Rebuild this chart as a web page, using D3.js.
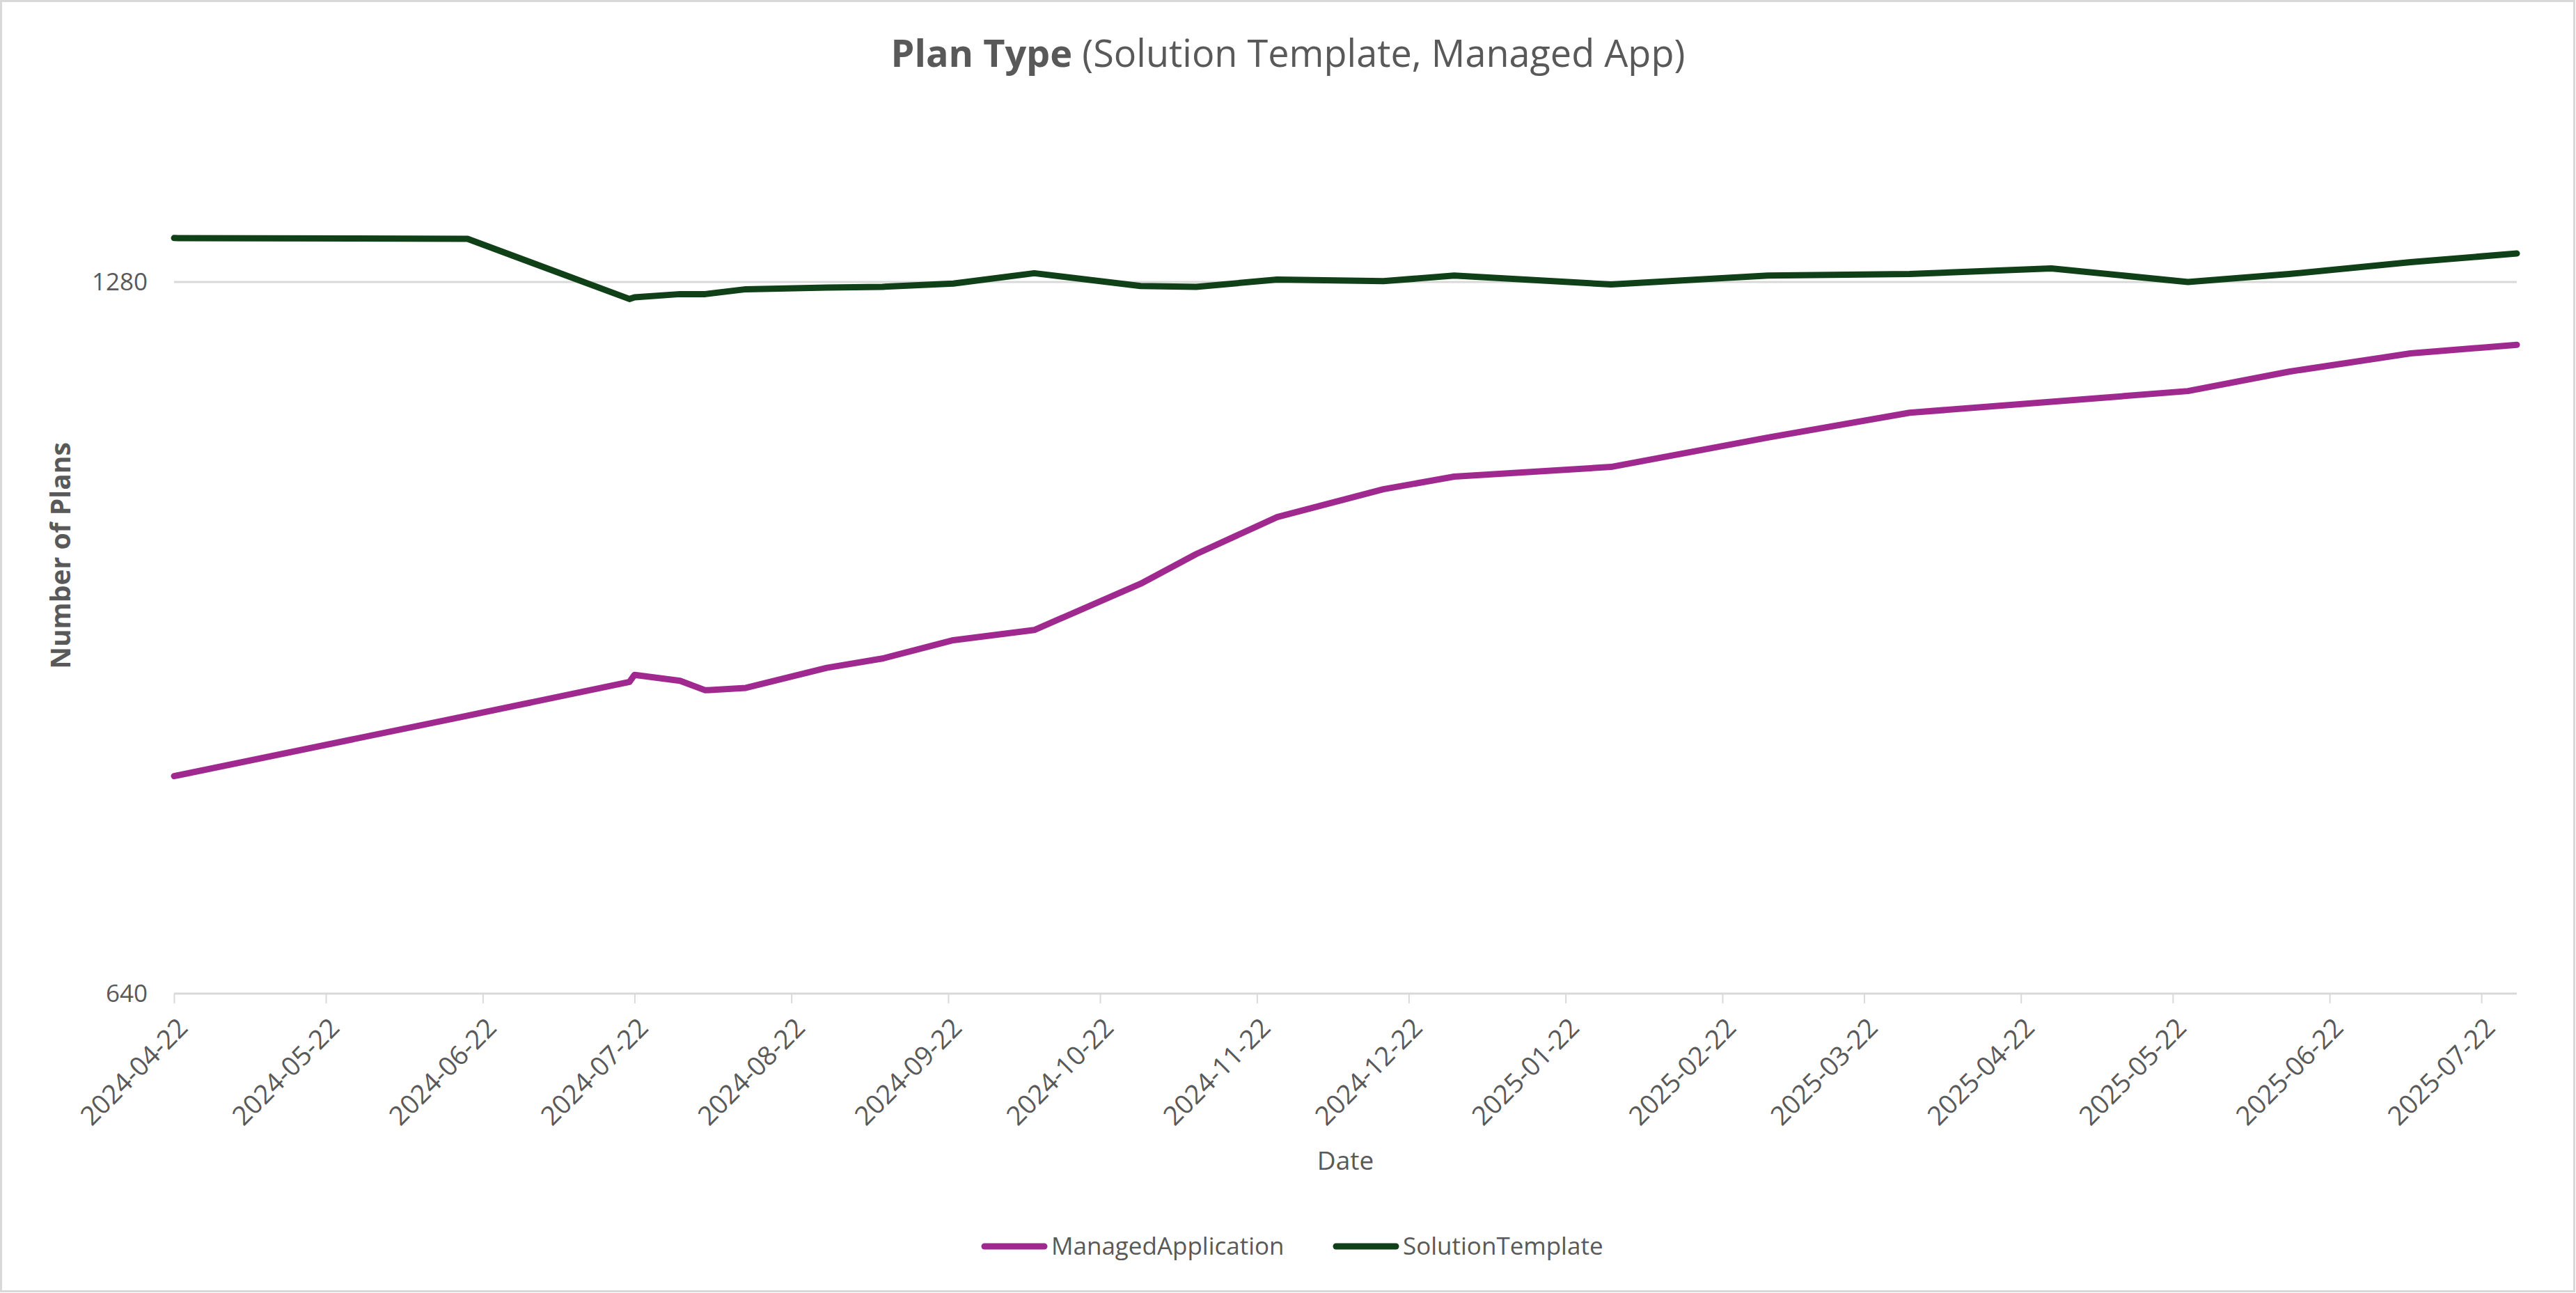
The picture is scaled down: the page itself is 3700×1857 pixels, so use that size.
<!DOCTYPE html>
<html>
<head>
<meta charset="utf-8">
<script src="https://cdn.jsdelivr.net/npm/d3@7"></script>
<style>
  body { margin: 0; background: #fff; }
  text { font-family: "Open Sans", "Noto Sans", sans-serif; fill: #595959; }
</style>
</head>
<body>
<svg id="chart"></svg>
<script>
// data
let dates = ["2024-04-22","2024-06-19","2024-07-21","2024-07-22","2024-07-31","2024-08-05",
  "2024-08-13","2024-08-29","2024-09-09","2024-09-23","2024-10-09","2024-10-30","2024-11-10",
  "2024-11-26","2024-12-17","2024-12-31","2025-01-31","2025-03-03","2025-03-31","2025-04-28",
  "2025-05-25","2025-06-14","2025-07-08","2025-07-29"];
let managedApplication = [791,839,867,873,868,860,862,879,887,903,912,954,982,1018,1046,1059,
  1069,1100,1127,1139,1151,1173,1194,1204];
let solutionTemplate = [1336,1335,1259,1261,1265,1265,1271,1273,1274,1278,1291,1275,1274,1283,
  1281,1288,1277,1288,1290,1297,1280,1290,1305,1316];
let xTickLabels = ["2024-04-22","2024-05-22","2024-06-22","2024-07-22","2024-08-22","2024-09-22",
  "2024-10-22","2024-11-22","2024-12-22","2025-01-22","2025-02-22","2025-03-22","2025-04-22",
  "2025-05-22","2025-06-22","2025-07-22"];
let yTicks = [640, 1280];
let seriesNames = ["ManagedApplication", "SolutionTemplate"];
let seriesColors = ["#a0298f", "#0f4017"];

let width = 3700;
let height = 1857;
let parse = d3.timeParse("%Y-%m-%d");

let svg = d3.select("#chart")
    .attr("width", width)
    .attr("height", height);

// chart border
svg.append("rect")
    .attr("x", 1.5).attr("y", 1.5)
    .attr("width", width - 4).attr("height", height - 4)
    .attr("fill", "#fff")
    .attr("stroke", "#d9d9d9")
    .attr("stroke-width", 3);

let plotLeft = 250, plotRight = 3615, plotBottom = 1427;
let pxPerDoubling = 1022;
let yMax = 1500;
let plotTop = plotBottom - pxPerDoubling * Math.log2(yMax / 640);

let x = d3.scaleTime()
    .domain([parse(dates[0]), parse(dates[dates.length - 1])])
    .range([plotLeft, plotRight]);
let y = d3.scaleLog().base(2)
    .domain([640, yMax])
    .range([plotBottom, plotTop]);

// gridlines
svg.append("g")
    .selectAll("line")
    .data(yTicks.slice(1))
    .join("line")
    .attr("x1", plotLeft).attr("x2", plotRight)
    .attr("y1", d => y(d)).attr("y2", d => y(d))
    .attr("stroke", "#d9d9d9")
    .attr("stroke-width", 3);

// y axis labels
let yAxis = d3.axisLeft(y)
    .tickValues(yTicks)
    .tickFormat(d3.format("d"))
    .tickSize(0)
    .tickPadding(38);
let yg = svg.append("g")
    .attr("transform", `translate(${plotLeft},0)`)
    .call(yAxis);
yg.select(".domain").remove();
yg.selectAll("text")
    .style("font-size", "35px")
    .attr("fill", "#595959");

// x axis
let xAxis = d3.axisBottom(x)
    .tickValues(xTickLabels.map(parse))
    .tickFormat(d3.timeFormat("%Y-%m-%d"))
    .tickSize(14)
    .tickPadding(10);
let xg = svg.append("g")
    .attr("transform", `translate(0,${plotBottom})`)
    .call(xAxis);
xg.select(".domain")
    .attr("stroke", "#d9d9d9")
    .attr("stroke-width", 3)
    .attr("d", `M${plotLeft},0H${plotRight}`);
xg.selectAll(".tick line")
    .attr("stroke", "#d9d9d9")
    .attr("stroke-width", 2);
xg.selectAll(".tick text")
    .style("font-size", "38px")
    .attr("fill", "#595959")
    .attr("text-anchor", "end")
    .attr("dy", "0.35em")
    .attr("transform", "translate(12,42) rotate(-45)")
    .attr("y", 0)
    .attr("x", 0);

// lines
let series = [managedApplication, solutionTemplate];
let line = d3.line()
    .x((d, i) => x(parse(dates[i])))
    .y(d => y(d));
svg.append("g")
    .selectAll("path")
    .data(series)
    .join("path")
    .attr("d", d => line(d))
    .attr("fill", "none")
    .attr("stroke", (d, i) => seriesColors[i])
    .attr("stroke-width", 9)
    .attr("stroke-linecap", "round")
    .attr("stroke-linejoin", "round");

// title
let title = svg.append("text")
    .attr("x", width / 2)
    .attr("y", 96)
    .attr("text-anchor", "middle")
    .style("font-size", "54px");
title.append("tspan").attr("font-weight", "bold").text("Plan Type");
title.append("tspan").text(" (Solution Template, Managed App)");

// axis titles
svg.append("text")
    .attr("transform", "translate(101,798) rotate(-90)")
    .attr("text-anchor", "middle")
    .attr("font-weight", "bold")
    .style("font-size", "39px")
    .text("Number of Plans");
svg.append("text")
    .attr("x", (plotLeft + plotRight) / 2)
    .attr("y", 1680)
    .attr("text-anchor", "middle")
    .style("font-size", "37px")
    .text("Date");

// legend
let legendX = [1410, 1915];
let legend = svg.append("g")
    .selectAll("g")
    .data(seriesNames)
    .join("g")
    .attr("transform", (d, i) => `translate(${legendX[i]},1790)`);
legend.append("line")
    .attr("x1", 4).attr("x2", 90)
    .attr("stroke", (d, i) => seriesColors[i])
    .attr("stroke-width", 9)
    .attr("stroke-linecap", "round");
legend.append("text")
    .attr("x", 100)
    .attr("dy", "0.35em")
    .style("font-size", "35px")
    .text(d => d);
</script>
</body>
</html>
